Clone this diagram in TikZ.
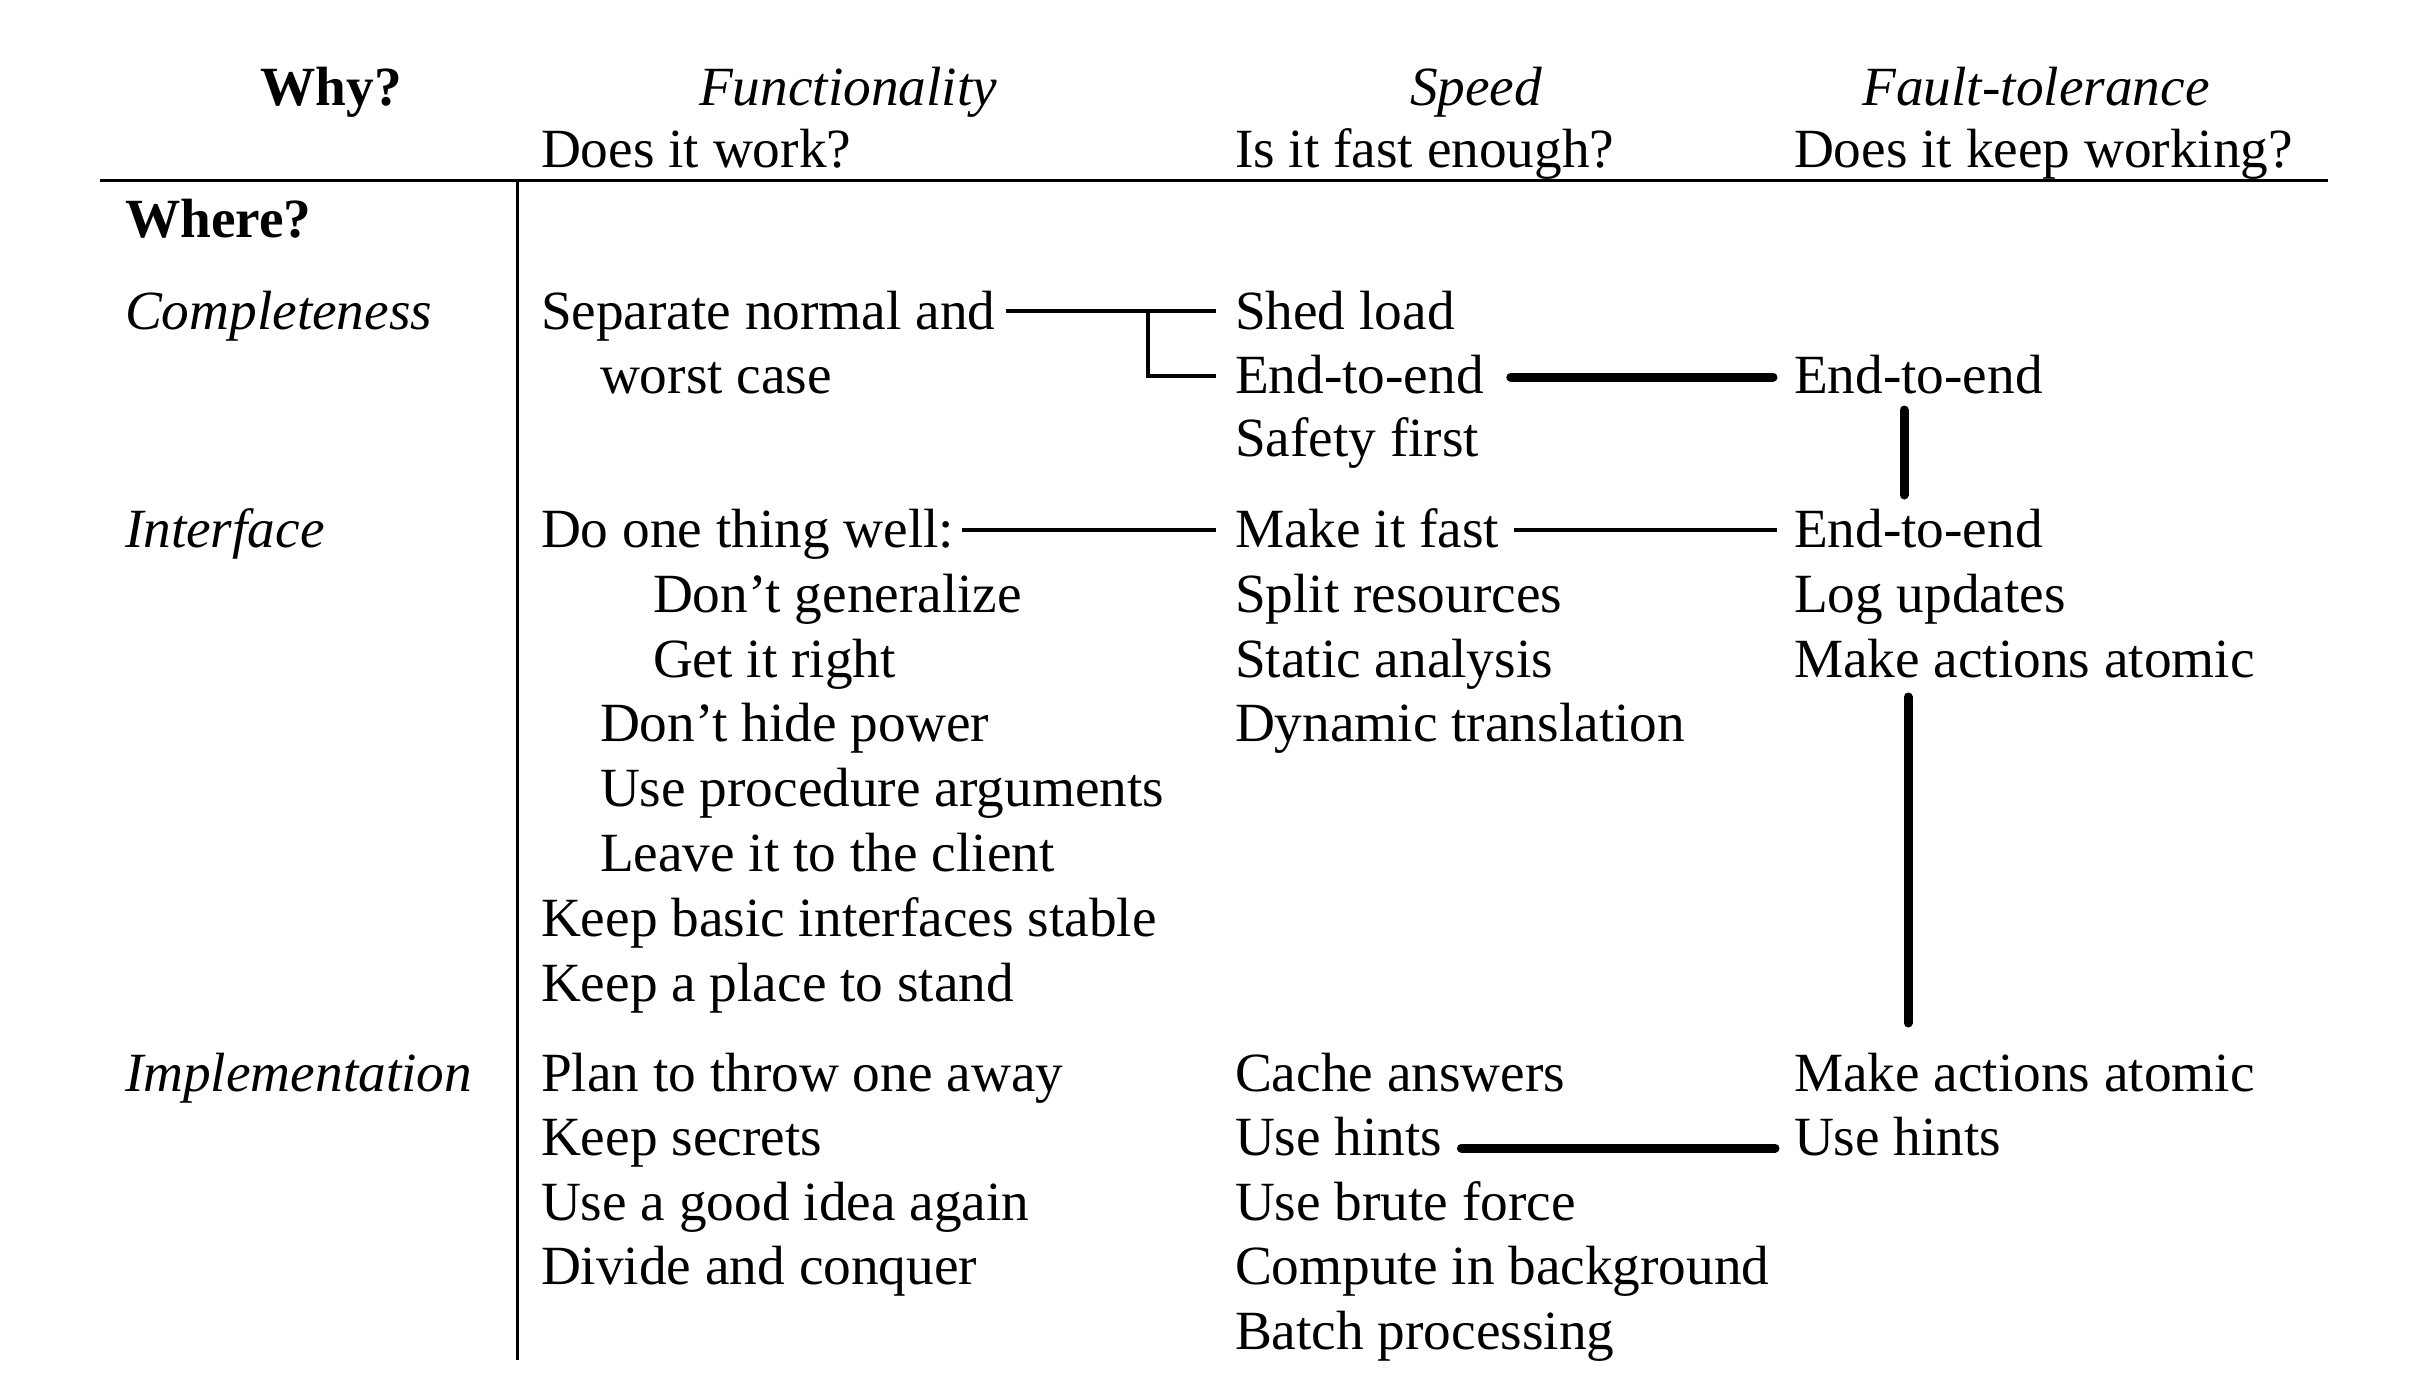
\documentclass[tikz,border=0pt]{standalone}
\usepackage{fontspec}
\setmainfont{Liberation Serif}
\begin{document}
\begin{tikzpicture}[x=1pt,y=-1pt,
  txt/.style={anchor=base west,inner sep=0pt,outer sep=0pt,font=\fontsize{55.3}{66}\selectfont},
  hdr/.style={anchor=base,inner sep=0pt,outer sep=0pt,font=\fontsize{55.3}{66}\selectfont\itshape},
  bld/.style={inner sep=0pt,outer sep=0pt,font=\fontsize{55.3}{66}\selectfont\bfseries},
  itl/.style={txt,font=\fontsize{55.3}{66}\selectfont\itshape},
  rulel/.style={line width=3pt},
  thinc/.style={line width=3.5pt},
  thickc/.style={line width=9pt,line cap=round}]
\useasboundingbox (0,0) rectangle (2432,1388);
\fill[white] (0,0) rectangle (2432,1388);

% header
\node[bld,anchor=base] (why) at (331,106) {Why?};
\node[hdr] (hfun) at (848,106) {Functionality};
\node[hdr] (hspd) at (1476,106) {Speed};
\node[hdr] (hflt) at (2036,106) {Fault-tolerance};
\node[txt] (qfun) at (541,168) {Does it work?};
\node[txt] (qspd) at (1235,168) {Is it fast enough?};
\node[txt] (qflt) at (1794,168) {Does it keep working?};

% rules
\coordinate (hl) at (100,181);
\coordinate (hr) at (2328,181);
\coordinate (vt) at (517,181);
\coordinate (vb) at (517,1360);
\draw[rulel] (hl) -- (hr);
\draw[rulel] (vt) -- (vb);

% row labels
\node[bld,anchor=base west] (where) at (125,238) {Where?};
\node[itl] (rcomp) at (125,329) {Completeness};
\node[itl] (rintf) at (125,547) {Interface};
\node[itl] (rimpl) at (125,1091) {Implementation};

% functionality column
\node[txt] (sep) at (541,329) {Separate normal and};
\node[txt] (wc) at (600,393) {worst case};
\node[txt] (do) at (541,547) {Do one thing well:};
\node[txt] (dg) at (653,612) {Don’t generalize};
\node[txt] (gr) at (653,677) {Get it right};
\node[txt] (dh) at (600,741) {Don’t hide power};
\node[txt] (up) at (600,806) {Use procedure arguments};
\node[txt] (lc) at (600,871) {Leave it to the client};
\node[txt] (kb) at (541,936) {Keep basic interfaces stable};
\node[txt] (kp) at (541,1001) {Keep a place to stand};
\node[txt] (pt) at (541,1091) {Plan to throw one away};
\node[txt] (ks) at (541,1155) {Keep secrets};
\node[txt] (ug) at (541,1220) {Use a good idea again};
\node[txt] (dc) at (541,1284) {Divide and conquer};

% speed column
\node[txt] (shed) at (1235,329) {Shed load};
\node[txt] (se2e) at (1235,393) {End-to-end};
\node[txt] (sf) at (1235,456) {Safety first};
\node[txt] (mif) at (1235,547) {Make it fast};
\node[txt] (sr) at (1235,612) {Split resources};
\node[txt] (sa) at (1235,677) {Static analysis};
\node[txt] (dt) at (1235,741) {Dynamic translation};
\node[txt] (ca) at (1235,1091) {Cache answers};
\node[txt] (suh) at (1235,1155) {Use hints};
\node[txt] (ubf) at (1235,1220) {Use brute force};
\node[txt] (cib) at (1235,1284) {Compute in background};
\node[txt] (bp) at (1235,1349) {Batch processing};

% fault-tolerance column
\node[txt] (fe1) at (1794,393) {End-to-end};
\node[txt] (fe2) at (1794,547) {End-to-end};
\node[txt] (lu) at (1794,612) {Log updates};
\node[txt] (ma1) at (1794,677) {Make actions atomic};
\node[txt] (ma2) at (1794,1091) {Make actions atomic};
\node[txt] (fuh) at (1794,1155) {Use hints};

% connectors
\coordinate (br) at (1148,311);
\draw[thinc] ([xshift=10pt,yshift=18pt]sep.base east) -- ([xshift=-19pt,yshift=18pt]shed.base west);
\draw[thinc] (br) |- ([xshift=-19pt,yshift=17pt]se2e.base west);
\draw[thickc] ([xshift=27pt,yshift=16pt]se2e.base east) -- ([xshift=-21pt,yshift=16pt]fe1.base west);
\draw[thickc] ([xshift=110pt,yshift=-17pt]fe1.base west) -- ([xshift=110pt,yshift=52pt]fe2.base west);
\draw[thinc] ([xshift=8pt,yshift=17pt]do.base east) -- ([xshift=-19pt,yshift=17pt]mif.base west);
\draw[thinc] ([xshift=15pt,yshift=17pt]mif.base east) -- ([xshift=-17pt,yshift=17pt]fe2.base west);
\draw[thickc] ([xshift=114pt,yshift=-20pt]ma1.base west) -- ([xshift=114pt,yshift=68pt]ma2.base west);
\draw[thickc] ([xshift=19pt,yshift=7pt]suh.base east) -- ([xshift=-19pt,yshift=7pt]fuh.base west);
\end{tikzpicture}
\end{document}
